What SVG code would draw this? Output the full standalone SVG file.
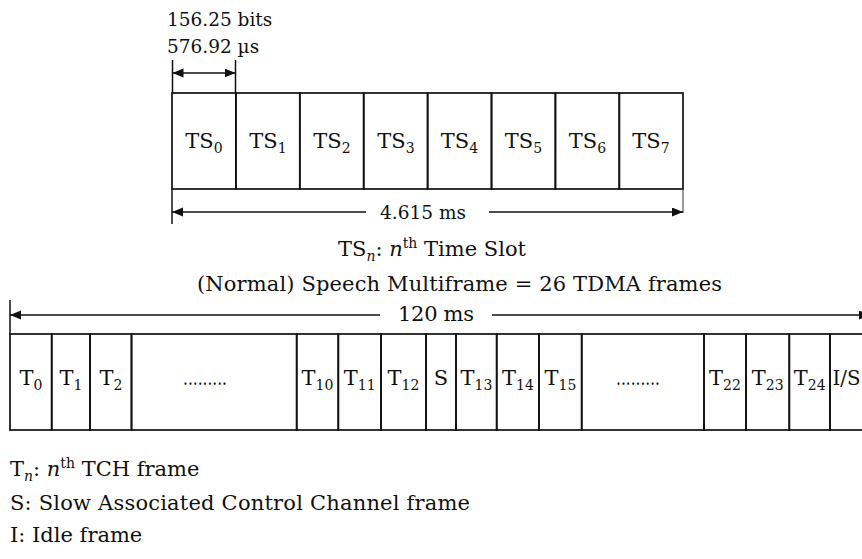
<svg xmlns="http://www.w3.org/2000/svg" width="862" height="559" viewBox="0 0 862 559">
<style>
  .t { font-family: "DejaVu Serif", "Liberation Serif", serif; font-size: 21px; fill: #111; }
  .m { font-family: "DejaVu Serif", "Liberation Serif", serif; font-size: 18.5px; fill: #111; }
  .c { text-anchor: middle; }
  .box { fill: none; stroke: #111; stroke-width: 1.7; }
  .ln { fill: none; stroke: #111; stroke-width: 1.5; }
  .thin { fill: none; stroke: #333; stroke-width: 1; }
  .arr { marker-start: url(#ah); marker-end: url(#ah); }
  .i { font-style: italic; }
</style>
<defs>
  <marker id="ah" markerUnits="userSpaceOnUse" markerWidth="12" markerHeight="10" refX="11" refY="4.5" orient="auto-start-reverse">
    <path d="M0,0 L11,4.5 L0,9 z" fill="#111"/>
  </marker>
</defs>
<rect width="862" height="559" fill="#fff"/>

<!-- top measurement texts -->
<text class="m" x="167" y="26">156.25 bits</text>
<text class="m" x="167" y="53">576.92 µs</text>

<!-- TDMA frame time slots -->
<g id="ts0"><rect class="box" x="172" y="93" width="63.9" height="96"/><text class="t c" x="204" y="148">TS<tspan dy="5" font-size="14">0</tspan></text></g>
<g id="ts1"><rect class="box" x="235.9" y="93" width="63.9" height="96"/><text class="t c" x="268" y="148">TS<tspan dy="5" font-size="14">1</tspan></text></g>
<g id="ts2"><rect class="box" x="299.8" y="93" width="63.9" height="96"/><text class="t c" x="332" y="148">TS<tspan dy="5" font-size="14">2</tspan></text></g>
<g id="ts3"><rect class="box" x="363.7" y="93" width="63.9" height="96"/><text class="t c" x="396" y="148">TS<tspan dy="5" font-size="14">3</tspan></text></g>
<g id="ts4"><rect class="box" x="427.6" y="93" width="63.9" height="96"/><text class="t c" x="459.5" y="148">TS<tspan dy="5" font-size="14">4</tspan></text></g>
<g id="ts5"><rect class="box" x="491.5" y="93" width="63.9" height="96"/><text class="t c" x="523.5" y="148">TS<tspan dy="5" font-size="14">5</tspan></text></g>
<g id="ts6"><rect class="box" x="555.4" y="93" width="63.9" height="96"/><text class="t c" x="587.5" y="148">TS<tspan dy="5" font-size="14">6</tspan></text></g>
<g id="ts7"><rect class="box" x="619.3" y="93" width="63.7" height="96"/><text class="t c" x="651" y="148">TS<tspan dy="5" font-size="14">7</tspan></text></g>

<text class="m c" x="423" y="219">4.615 ms</text>

<text class="t" x="338" y="256">TS<tspan dy="5" font-size="14" class="i">n</tspan><tspan dy="-5">: </tspan><tspan class="i">n</tspan><tspan dy="-8" font-size="14">th</tspan><tspan dy="8"> Time Slot</tspan></text>
<text class="t" x="197" y="291" textLength="525" lengthAdjust="spacing">(Normal) Speech Multiframe = 26 TDMA frames</text>

<text class="t" x="398" y="321" textLength="76" lengthAdjust="spacing">120 ms</text>

<!-- multiframe cells -->
<g id="f0"><rect class="box" x="10" y="334" width="41.7" height="96"/><text class="t c" x="31" y="385">T<tspan dy="5" font-size="14">0</tspan></text></g>
<g id="f1"><rect class="box" x="51.7" y="334" width="38.3" height="96"/><text class="t c" x="71" y="385">T<tspan dy="5" font-size="14">1</tspan></text></g>
<g id="f2"><rect class="box" x="90" y="334" width="41.5" height="96"/><text class="t c" x="111" y="385">T<tspan dy="5" font-size="14">2</tspan></text></g>
<g id="fdots1"><rect class="box" x="131.5" y="334" width="165.2" height="96"/><text class="t c" x="205" y="385" textLength="44" lengthAdjust="spacingAndGlyphs">.........</text></g>
<g id="f10"><rect class="box" x="296.7" y="334" width="41.6" height="96"/><text class="t c" x="317.5" y="385">T<tspan dy="5" font-size="14">10</tspan></text></g>
<g id="f11"><rect class="box" x="338.3" y="334" width="42.7" height="96"/><text class="t c" x="359.7" y="385">T<tspan dy="5" font-size="14">11</tspan></text></g>
<g id="f12"><rect class="box" x="381" y="334" width="45" height="96"/><text class="t c" x="403.5" y="385">T<tspan dy="5" font-size="14">12</tspan></text></g>
<g id="fs"><rect class="box" x="426" y="334" width="30" height="96"/><text class="t c" x="441" y="385">S</text></g>
<g id="f13"><rect class="box" x="456" y="334" width="40.7" height="96"/><text class="t c" x="476.4" y="385">T<tspan dy="5" font-size="14">13</tspan></text></g>
<g id="f14"><rect class="box" x="496.7" y="334" width="42.3" height="96"/><text class="t c" x="517.9" y="385">T<tspan dy="5" font-size="14">14</tspan></text></g>
<g id="f15"><rect class="box" x="539" y="334" width="42.7" height="96"/><text class="t c" x="560.4" y="385">T<tspan dy="5" font-size="14">15</tspan></text></g>
<g id="fdots2"><rect class="box" x="581.7" y="334" width="122.3" height="96"/><text class="t c" x="638" y="385" textLength="44" lengthAdjust="spacingAndGlyphs">.........</text></g>
<g id="f22"><rect class="box" x="704" y="334" width="42" height="96"/><text class="t c" x="725" y="385">T<tspan dy="5" font-size="14">22</tspan></text></g>
<g id="f23"><rect class="box" x="746" y="334" width="43.3" height="96"/><text class="t c" x="767.7" y="385">T<tspan dy="5" font-size="14">23</tspan></text></g>
<g id="f24"><rect class="box" x="789.3" y="334" width="40.7" height="96"/><text class="t c" x="809.7" y="385">T<tspan dy="5" font-size="14">24</tspan></text></g>
<g id="fis"><rect class="box" x="830" y="334" width="40" height="96"/><text class="t" x="832.5" y="385" textLength="28" lengthAdjust="spacingAndGlyphs">I/S</text></g>

<!-- legend -->
<text class="t" x="10" y="476">T<tspan dy="5" font-size="14" class="i">n</tspan><tspan dy="-5">: </tspan><tspan class="i">n</tspan><tspan dy="-8" font-size="14">th</tspan><tspan dy="8"> TCH frame</tspan></text>
<text class="t" x="10" y="510" textLength="460" lengthAdjust="spacing">S: Slow Associated Control Channel frame</text>
<text class="t" x="10" y="542">I: Idle frame</text>

<!-- connectors: dimension lines -->
<g id="connectors">
  <line class="ln" x1="172.5" y1="60" x2="172.5" y2="93"/>
  <line class="ln" x1="235.5" y1="60" x2="235.5" y2="93"/>
  <line class="ln arr" x1="172.5" y1="73" x2="235.5" y2="73"/>

  <line class="ln" x1="172" y1="189" x2="172" y2="224"/>
  <line class="thin" x1="683" y1="189" x2="683" y2="213"/>
  <line class="ln" x1="172" y1="212" x2="366" y2="212" marker-start="url(#ah)"/>
  <line class="ln" x1="489" y1="212" x2="683" y2="212" marker-end="url(#ah)"/>

  <line class="ln" x1="10" y1="300" x2="10" y2="334"/>
  <line class="ln" x1="10" y1="315" x2="380" y2="315" marker-start="url(#ah)"/>
  <line class="ln" x1="492" y1="315" x2="870" y2="315" marker-end="url(#ah)"/>
</g>
</svg>
